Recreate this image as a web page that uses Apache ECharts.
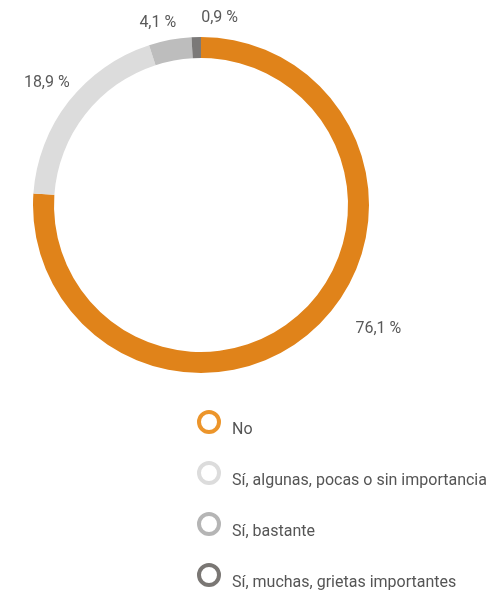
<!DOCTYPE html>
<html>
<head>
<meta charset="utf-8">
<script src="https://cdn.jsdelivr.net/npm/echarts@6/dist/echarts.min.js"></script>
<style>
  html, body { margin: 0; padding: 0; background: #fff; }
  #main { width: 494px; height: 593px; }
</style>
</head>
<body>
<div id="main"></div>
<script>
// datos
var categorias = ['No', 'Sí, algunas, pocas o sin importancia', 'Sí, bastante', 'Sí, muchas, grietas importantes'];
var valores = [76.1, 18.9, 4.1, 0.9];
var colores = ['#e0831a', '#dcdcdc', '#bdbdbd', '#7b7978'];
var coloresLeyenda = ['#ec952b', '#dcdcdc', '#b5b5b5', '#7a7774'];

// pequeños ajustes de la posicion de las etiquetas
var labelNudge = [[28, -6], [14, -12], [13, -7], [47, -9]];

var myChart = echarts.init(document.getElementById('main'));

var pieData = [];
var legendData = [];
for (var i = 0; i < categorias.length; i++) {
	pieData.push({ name: categorias[i], value: valores[i], itemStyle: { color: colores[i] } });
	legendData.push({ name: categorias[i], itemStyle: { color: '#fff', borderColor: coloresLeyenda[i], borderWidth: 4 } });
}

var option = {
	animation: false,
	backgroundColor: '#fff',
	textStyle: { fontFamily: 'Roboto' },
	legend: {
		orient: 'vertical',
		left: 197,
		top: 410,
		padding: 0,
		itemWidth: 20,
		itemHeight: 20,
		itemGap: 23,
		icon: 'circle',
		data: legendData,
		formatter: function (name) { return '{t|' + name + '}'; },
		textStyle: {
			fontSize: 16,
			color: '#555',
			rich: { t: { fontSize: 16, color: '#555', padding: [16, 0, 0, 8] } }
		}
	},
	series: [{
		type: 'pie',
		center: [201, 205],
		radius: [147, 168],
		startAngle: 90,
		clockwise: true,
		silent: true,
		avoidLabelOverlap: false,
		data: pieData,
		label: {
			show: true,
			position: 'outside',
			fontSize: 16,
			color: '#595959',
			formatter: function (p) { return p.value.toFixed(1).replace('.', ',') + ' %'; }
		},
		labelLine: { show: false, length: 10, length2: 0 },
		labelLayout: function (params) {
			var n = labelNudge[params.dataIndex];
			return { dx: n[0], dy: n[1] };
		}
	}]
};

myChart.setOption(option);
</script>
</body>
</html>
